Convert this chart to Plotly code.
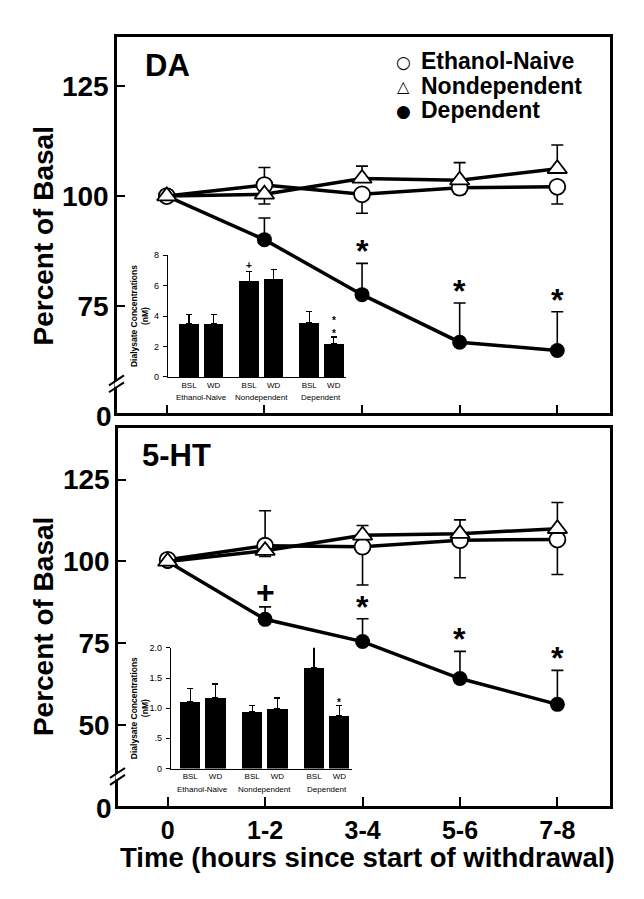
import plotly.graph_objects as go

# ---------------- data ----------------
time_labels = ["0", "1-2", "3-4", "5-6", "7-8"]
time_pos = [0, 1, 2, 3, 4]

da_naive = [100, 102.5, 100.4, 101.9, 102.1]
da_naive_err_up = [0, 4.0, 0, 0, 0]
da_naive_err_down = [0, 0, 4.3, 1.5, 3.9]
da_nondep = [100, 100.4, 104.0, 103.6, 106.2]
da_nondep_err_up = [0, 0, 2.8, 4.0, 5.4]
da_nondep_err_down = [0, 2.2, 0, 0, 0]
da_dep = [100, 90.1, 77.6, 66.8, 64.9]
da_dep_err_up = [0, 4.9, 7.1, 8.9, 8.8]
da_dep_marks = ["", "", "*", "*", "*"]

ht_naive = [100.5, 104.8, 104.5, 106.5, 106.7]
ht_naive_err_up = [0, 10.7, 0, 0, 0]
ht_naive_err_down = [0, 0, 11.7, 11.5, 10.7]
ht_nondep = [100, 103.3, 108.0, 108.5, 110.0]
ht_nondep_err_up = [0, 0, 3.0, 4.2, 8.0]
ht_nondep_err_down = [0, 1.8, 0, 0, 0]
ht_dep = [100, 82.3, 75.5, 64.2, 56.3]
ht_dep_err_up = [0, 3.8, 7.0, 8.3, 10.4]
ht_dep_marks = ["", "+", "*", "*", "*"]

inset_labels = ["BSL", "WD", "BSL", "WD", "BSL", "WD"]
inset_groups = ["Ethanol-Naive", "Nondependent", "Dependent"]
inset_pos = [0, 1, 2.45, 3.45, 4.9, 5.9]
da_nm = [3.48, 3.48, 6.30, 6.43, 3.54, 2.17]
da_nm_err = [0.62, 0.62, 0.62, 0.62, 0.76, 0.45]
da_nm_marks = ["", "", "+", "", "", "**"]
ht_nm = [1.11, 1.17, 0.94, 0.99, 1.67, 0.87]
ht_nm_err = [0.22, 0.23, 0.11, 0.18, 0.37, 0.17]
ht_nm_marks = ["", "", "", "", "", "*"]

series_names = ["Ethanol-Naive", "Nondependent", "Dependent"]
legend_symbols = ["○", "△", "●"]

# ---------------- styling helpers ----------------
W, H = 644, 899
OFF = 8  # page body margin
def px(x):
    return (x - OFF) / W
def py(y):
    return 1 - (y - OFF) / H

SANS = "Liberation Sans, Arial, Helvetica, sans-serif"
BLACK = "black"

fig = go.Figure()

def err(up, down):
    return dict(type="data", symmetric=False, array=up, arrayminus=down,
                color=BLACK, thickness=1.6, width=6)

def add_panel(xa, ya, naive, n_up, n_dn, nondep, nd_up, nd_dn, dep, d_up):
    fig.add_trace(go.Scatter(
        x=time_pos, y=dep, mode="lines+markers", xaxis=xa, yaxis=ya,
        line=dict(color=BLACK, width=3.5), showlegend=False,
        marker=dict(symbol="circle", size=15, color=BLACK),
        error_y=err(d_up, [0] * len(d_up)), name=series_names[2]))
    fig.add_trace(go.Scatter(
        x=time_pos, y=naive, mode="lines+markers", xaxis=xa, yaxis=ya,
        line=dict(color=BLACK, width=3.5), showlegend=False,
        marker=dict(symbol="circle", size=16, color="white",
                    line=dict(color=BLACK, width=1.8)),
        error_y=err(n_up, n_dn), name=series_names[0]))
    fig.add_trace(go.Scatter(
        x=time_pos, y=nondep, mode="lines+markers", xaxis=xa, yaxis=ya,
        line=dict(color=BLACK, width=3.5), showlegend=False,
        marker=dict(symbol="triangle-up", size=17, color="white",
                    line=dict(color=BLACK, width=1.8)),
        error_y=err(nd_up, nd_dn), name=series_names[1]))

add_panel("x", "y", da_naive, da_naive_err_up, da_naive_err_down,
          da_nondep, da_nondep_err_up, da_nondep_err_down, da_dep, da_dep_err_up)
add_panel("x2", "y2", ht_naive, ht_naive_err_up, ht_naive_err_down,
          ht_nondep, ht_nondep_err_up, ht_nondep_err_down, ht_dep, ht_dep_err_up)

# insets
def add_inset(xa, ya, vals, errs):
    fig.add_trace(go.Bar(
        x=inset_pos, y=vals, xaxis=xa, yaxis=ya, width=0.8,
        marker=dict(color=BLACK, line=dict(width=0)), showlegend=False,
        error_y=dict(type="data", symmetric=False, array=errs,
                     arrayminus=[0] * len(errs), color=BLACK, thickness=1.2, width=3)))

add_inset("x3", "y3", da_nm, da_nm_err)
add_inset("x4", "y4", ht_nm, ht_nm_err)

# ---------------- axes ----------------
main_x = dict(range=[-0.51, 4.54], tickvals=time_pos, ticktext=time_labels,
              ticks="inside", ticklen=9, tickwidth=2, tickcolor=BLACK,
              showline=True, linewidth=2.5, linecolor=BLACK, mirror=True,
              showgrid=False, zeroline=False,
              tickfont=dict(family=SANS, size=25, color=BLACK, weight="bold"))
main_y = dict(ticks="inside", ticklen=8, tickwidth=2, tickcolor=BLACK,
              showline=True, linewidth=2.5, linecolor=BLACK, mirror=True,
              showgrid=False, zeroline=False,
              tickfont=dict(family=SANS, size=28, color=BLACK, weight="bold"))

fig.update_layout(
    xaxis=dict(main_x, domain=[px(117), px(610)], anchor="y", showticklabels=False),
    yaxis=dict(main_y, domain=[py(413), py(32)], anchor="x", range=[50.6, 136.2],
               tickvals=[75, 100, 125]),
    xaxis2=dict(main_x, domain=[px(118), px(610)], anchor="y2"),
    yaxis2=dict(main_y, domain=[py(810), py(428)], anchor="x2", range=[25.2, 140.7],
                tickvals=[50, 75, 100, 125]),
)

inset_x = dict(tickvals=inset_pos, ticktext=inset_labels, ticks="", showline=True,
               linewidth=1.3, linecolor=BLACK, showgrid=False, zeroline=False,
               tickfont=dict(family=SANS, size=8, color=BLACK))
inset_y = dict(ticks="outside", ticklen=4, tickwidth=1.2, tickcolor=BLACK,
               showline=True, linewidth=1.3, linecolor=BLACK, showgrid=False,
               zeroline=False, ticklabelstandoff=2,
               tickfont=dict(family=SANS, size=9, color=BLACK))
fig.update_layout(
    xaxis3=dict(inset_x, domain=[px(168), px(346)], anchor="y3", range=[-0.86, 6.4]),
    yaxis3=dict(inset_y, domain=[py(376), py(253)], anchor="x3", range=[0, 8],
                tickvals=[0, 2, 4, 6, 8]),
    xaxis4=dict(inset_x, domain=[px(171), px(352)], anchor="y4", range=[-0.76, 6.4]),
    yaxis4=dict(inset_y, domain=[py(772), py(650)], anchor="x4", range=[0, 2.0],
                tickvals=[0, 0.5, 1.0, 1.5, 2.0], ticktext=["0", ".5", "1.0", "1.5", "2.0"]),
)

# ---------------- annotations ----------------
ann = []

def txt(x, y, text, size, xanchor="center", yanchor="middle", bold=True,
        angle=0, family=SANS):
    ann.append(dict(x=px(x), y=py(y), xref="paper", yref="paper", text=text,
                    showarrow=False, xanchor=xanchor, yanchor=yanchor, textangle=angle,
                    font=dict(family=family, size=size, color=BLACK,
                              weight="bold" if bold else "normal")))

def mark_annots(xref, yref, vals, ups, marks, size, shift):
    for xp, v, u, m in zip(time_pos, vals, ups, marks):
        if not m:
            continue
        ann.append(dict(x=xp, y=v + u, xref=xref, yref=yref, text=m, showarrow=False,
                        xanchor="center", yanchor="middle",
                        yshift=shift + (3 if m == "+" else 0),
                        font=dict(family=SANS, size=size, color=BLACK, weight="bold")))

mark_annots("x", "y", da_dep, da_dep_err_up, da_dep_marks, 32, 12)
mark_annots("x2", "y2", ht_dep, ht_dep_err_up, ht_dep_marks, 32, 12)

def inset_marks(xref, yref, vals, errs, marks):
    for xp, v, e, m in zip(inset_pos, vals, errs, marks):
        if not m:
            continue
        ann.append(dict(x=xp, y=v + e, xref=xref, yref=yref, text="<br>".join(m),
                        showarrow=False, xanchor="center", yanchor="bottom",
                        yshift=(-4 if m[0] == "*" else -1),
                        font=dict(family=SANS, size=10, color=BLACK, weight="bold")))

inset_marks("x3", "y3", da_nm, da_nm_err, da_nm_marks)
inset_marks("x4", "y4", ht_nm, ht_nm_err, ht_nm_marks)

# group names under inset pairs
for xa in ["x3", "x4"]:
    for g, (a, b) in zip(inset_groups, [(0, 1), (2, 3), (4, 5)]):
        ann.append(dict(x=(inset_pos[a] + inset_pos[b]) / 2, y=0, xref=xa,
                        yref=xa.replace("x", "y") + " domain", text=g, showarrow=False,
                        xanchor="center", yanchor="top", yshift=-14,
                        font=dict(family=SANS, size=8, color=BLACK)))

# inset y titles
for yc in [314.5, 711]:
    txt(139, yc, "Dialysate Concentrations<br>(nM)", 8.5, angle=-90)

# main y titles
for yc in [234, 629]:
    txt(43, yc, "Percent of Basal", 28, angle=-90)

# x title
txt(367, 862, "Time (hours since start of withdrawal)", 27.5)

# panel labels
txt(143, 61, "DA", 31, xanchor="left")
txt(140, 455, "5-HT", 31, xanchor="left")

# "0" labels at the bottom of the broken axes
for yb in [416, 812]:
    txt(114, yb, "0", 28, xanchor="right")

# legend (symbol + label rows)
for i, (sym, name) in enumerate(zip(legend_symbols, series_names)):
    yrow = 57 + 24.5 * i
    txt(403, yrow + 1, sym, 17 if sym != "△" else 16, bold=False,
        family="DejaVu Sans, sans-serif")
    txt(419, yrow, name, 23, xanchor="left")

# ---------------- axis break marks ----------------
shapes = []
for (ax_x, yc) in [(117, 383), (118, 780)]:
    shapes.append(dict(type="line", xref="paper", yref="paper",
                       x0=px(ax_x), x1=px(ax_x), y0=py(yc + 3), y1=py(yc - 3),
                       line=dict(color="white", width=5)))
    for dy in (-3.5, 3.5):
        shapes.append(dict(type="line", xref="paper", yref="paper",
                           x0=px(ax_x - 8), y0=py(yc + dy + 5),
                           x1=px(ax_x + 7), y1=py(yc + dy - 5),
                           line=dict(color=BLACK, width=2)))

fig.update_layout(
    width=W, height=H, margin=dict(l=0, r=0, t=0, b=0),
    paper_bgcolor="white", plot_bgcolor="rgba(0,0,0,0)",
    annotations=ann, shapes=shapes, bargap=0, showlegend=False,
)

fig.write_html("out.html")
